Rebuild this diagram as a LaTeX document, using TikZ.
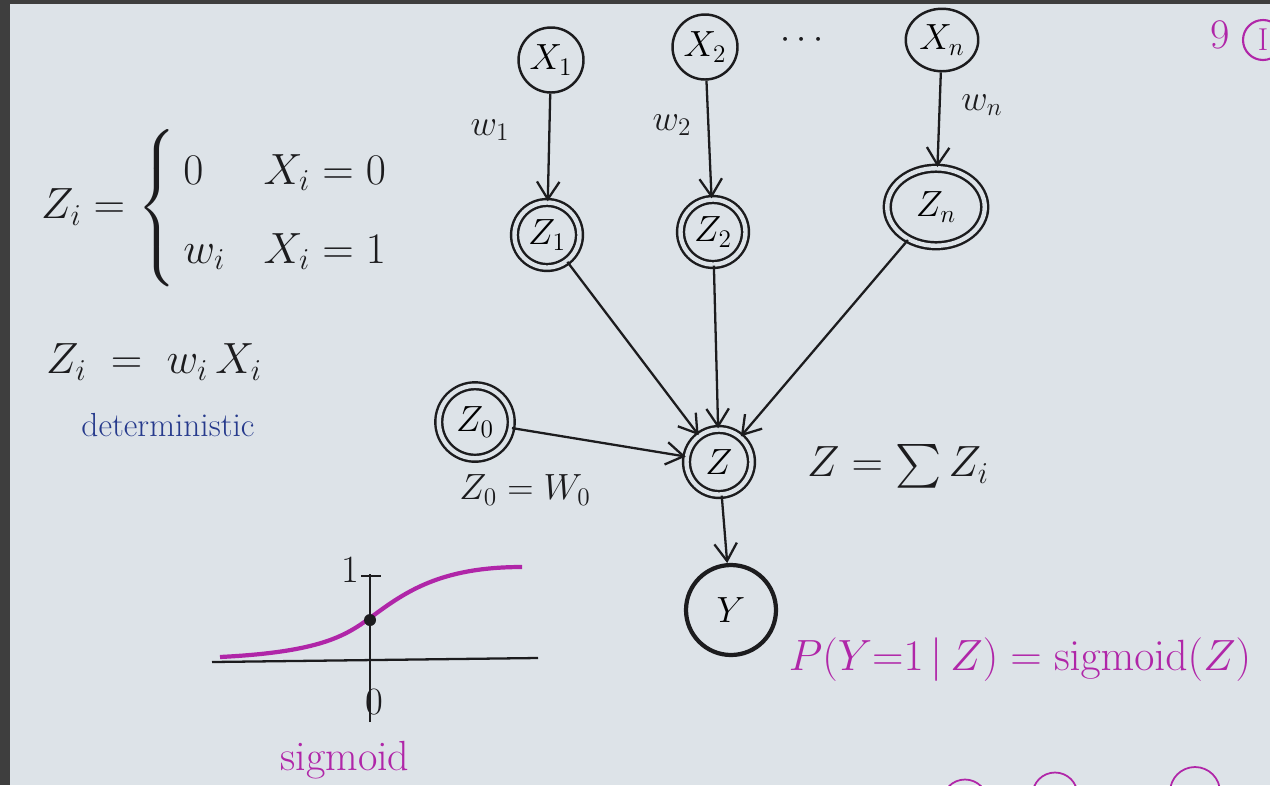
\documentclass[tikz,border=0pt]{standalone}
\usepackage{amsmath}
\usetikzlibrary{arrows.meta, positioning, shapes.geometric, calc}
\definecolor{paper}{RGB}{221,227,232}
\definecolor{frame}{RGB}{62,62,62}
\definecolor{pen}{RGB}{28,28,30}
\definecolor{mag}{RGB}{176,38,168}
\definecolor{ink}{RGB}{38,58,140}

\begin{document}
\begin{tikzpicture}[x=0.02cm, y=-0.02cm,
  var/.style={circle,draw=pen,line width=1.4pt,minimum size=1.3cm,
              inner sep=0pt,font=\fontsize{22}{24}\selectfont},
  det/.style={var,double=paper,double distance=2.5pt},
  arr/.style={-{Straight Barb[length=3.5mm,width=4.5mm]},pen,line width=1.3pt},
  lbl/.style={font=\fontsize{22}{26}\selectfont,text=pen},
  note/.style={font=\fontsize{24}{28}\selectfont,text=mag}
]
\useasboundingbox (0,0) rectangle (1270,785);
\clip (0,0) rectangle (1270,785);
\fill[frame] (0,0) rectangle (1270,785);
\fill[paper] (10,4) rectangle (1270,785);

% ── network ─────────────────────────────────────────────
\node[var] (X1) at (551,60) {$X_1$};
\node[var] (X2) at (705,47) {$X_2$};
\node[var,ellipse,minimum width=1.45cm,minimum height=1.25cm] (Xn) at (942,40) {$X_n$};
\node[lbl] (dots) at (805,40) {$\cdots$};

\node[det] (Z1) at (547,235) {$Z_1$};
\node[det] (Z2) at (713,232) {$Z_2$};
\node[det,ellipse,minimum width=1.95cm,minimum height=1.55cm] (Zn) at (936,207) {$Z_n$};

\node[det] (Z)  at (719,462) {$Z$};
\node[det,minimum size=1.45cm] (Z0) at (475,422) {$Z_0$};
\node[var,line width=2.4pt,minimum size=1.8cm] (Y) at (731,610) {$Y$};

\draw[arr] (X1) -- (Z1);
\draw[arr] (X2) -- (Z2);
\draw[arr] (Xn) -- (Zn);
\node[lbl] (w1) at (490,130) {$w_1$};
\node[lbl] (w2) at (672,125) {$w_2$};
\node[lbl] (wn) at (982,105) {$w_n$};

\draw[arr] (Z1) -- (Z);
\draw[arr] (Z2) -- (Z);
\draw[arr] (Zn) -- (Z);
\draw[arr] (Z0) -- (Z);
\draw[arr] (Z) -- (Y);

\node[lbl,font=\fontsize{26}{30}\selectfont] (zsum) at (898,466) {$Z=\sum Z_i$};
\node[lbl] (z0eq) at (525,490) {$Z_0=W_0$};
\node[note] (py) at (1020,660) {$P(Y{=}1\,|\,Z) = \mathrm{sigmoid}(Z)$};

% ── left formulas ───────────────────────────────────────
\node[lbl,anchor=west,font=\fontsize{25}{29}\selectfont] (zdef) at (35,208)
  {$Z_i = \left\{\renewcommand{\arraystretch}{1.55}
   \begin{array}{@{\,}l@{\hspace{22pt}}l} 0 & X_i=0\\ w_i & X_i=1\end{array}\right.$};
\node[lbl,anchor=west,font=\fontsize{26}{30}\selectfont] (zprod) at (40,362) {$Z_i \;=\; w_i\, X_i$};
\node[lbl,text=ink,font=\fontsize{19}{22}\selectfont] (determ) at (168,425) {deterministic};

% ── sigmoid sketch ──────────────────────────────────────
\coordinate (hx0) at (212,662);
\coordinate (hx1) at (538,658);
\coordinate (vy0) at (370,722);
\coordinate (vy1) at (370,574);
\coordinate (tk0) at (361,576);
\coordinate (tk1) at (381,576);
\draw[pen,line width=1.3pt] (hx0) -- (hx1);
\draw[pen,line width=1.3pt] (vy0) -- (vy1);
\draw[pen,line width=1.3pt] (tk0) -- (tk1);
\node[lbl] (one) at (350,570) {1};
\node[lbl] (zero) at (374,702) {0};
\draw[mag,line width=2.4pt] (220,657) .. controls (320,652) and (345,636) .. (370,618)
  .. controls (405,592) and (440,567) .. (522,567);
\fill[pen] (370,620) circle (6);
\node[note] (sig) at (345,760) {sigmoid};

% ── page marks ──────────────────────────────────────────
\node[note] (pg) at (1220,35) {9};
\node[circle,draw=mag,line width=1.2pt,minimum size=0.8cm,text=mag,
      font=\fontsize{18}{20}\selectfont] (pgI) at (1263,40) {I};
\node[circle,draw=mag,line width=1pt,minimum size=0.9cm] (b1) at (965,802) {};
\node[circle,draw=mag,line width=1pt,minimum size=0.9cm] (b2) at (1055,795) {};
\node[circle,draw=mag,line width=1pt,minimum size=1cm] (b3) at (1195,792) {};
\end{tikzpicture}
\end{document}
